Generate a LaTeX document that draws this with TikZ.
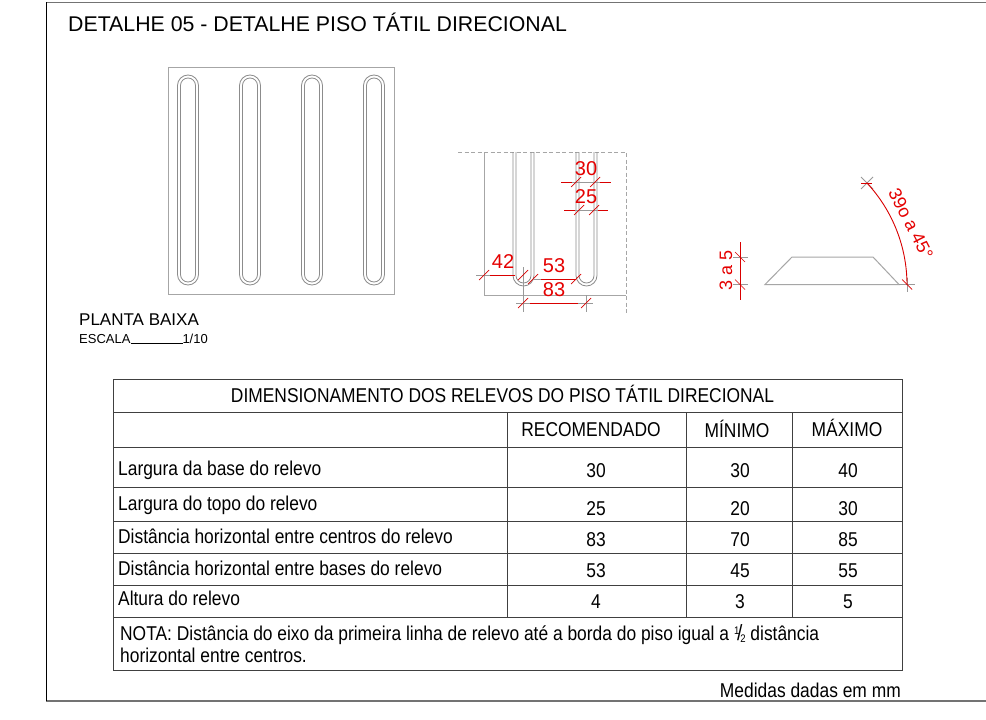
\documentclass[tikz,border=0pt]{standalone}
\usepackage{fontspec}
\setmainfont{Liberation Sans}
\tikzset{
  x=1pt,y=-1pt,
  gl/.style={draw=black!35,line width=1pt},
  gd/.style={draw=black!35,line width=.8pt,dash pattern=on 4pt off 2.5pt},
  ribl/.style={draw=black!45,line width=.8pt},
  dimr/.style={draw=red!85!black,line width=0.9pt},
  dimg/.style={draw=black!40,line width=0.9pt},
  tick/.style={draw=red!85!black,line width=0.7pt},
  redt/.style={text=red!90!black,inner sep=0pt,font=\fontsize{20}{20}\selectfont},
  lab/.style={inner sep=0pt,anchor=base west},
  tb/.style={draw=black!75,line width=.9pt},
  tl/.style={inner sep=0pt,anchor=base west,font=\fontsize{20}{20}\selectfont,xscale=0.87},
  tc/.style={inner sep=0pt,anchor=base,font=\fontsize{20}{20}\selectfont,xscale=0.87},
}
\begin{document}
\begin{tikzpicture}
\useasboundingbox (0,0) rectangle (986,720);
\fill[white] (0,0) rectangle (986,720);
% frame
\draw[draw=black!55,line width=1.1pt] (986,2.5) -- (46,2.5);
\draw[draw=black!55,line width=1.1pt] (46,701) -- (986,701);
\draw[draw=black,line width=1pt] (46,2) -- (46,701);
\node[lab,font=\fontsize{21.3}{21.3}\selectfont] (title) at (68,31) {DETALHE 05 - DETALHE PISO TÁTIL DIRECIONAL};
% tile
\draw[gl] (168,67) rectangle (394,294);
\foreach \c in {188,250,312,374}{
  \draw[ribl] (\c-10.5,85.5) arc[start angle=180,end angle=360,radius=10.5] -- (\c+10.5,274.5) arc[start angle=0,end angle=180,radius=10.5] -- cycle;
  \draw[ribl] (\c-7.5,85.5) arc[start angle=180,end angle=360,radius=7.5] -- (\c+7.5,274.5) arc[start angle=0,end angle=180,radius=7.5] -- cycle;
}
\node[lab,font=\fontsize{17}{17}\selectfont] (pb) at (79,325) {PLANTA BAIXA};
\node[lab,font=\fontsize{13}{13}\selectfont] (esc) at (79,343) {ESCALA\rule[-1pt]{52pt}{.6pt}1/10};
% detail
\draw[gd] (458,152) -- (626,152) -- (626,315);
\draw[gl] (484,152) -- (484,295) -- (626,295);
\foreach \c in {523.5,586.5}{
  \draw[ribl] (\c-10.5,152) -- (\c-10.5,275.5) arc[start angle=180,end angle=0,radius=10.5] -- (\c+10.5,152);
  \draw[ribl] (\c-7.5,152) -- (\c-7.5,275.5) arc[start angle=180,end angle=0,radius=7.5] -- (\c+7.5,152);
}
\draw[dimg] (523,267) -- (523,312) (586,295) -- (586,312);
% dims
\draw[dimg] (476,275) -- (490,275) (534,279) -- (541,279) (516,303) -- (530,303) (578,303) -- (593,303);
\draw[dimr] (490,275) -- (515,275) (541,279) -- (576,279) (530,303) -- (578,303);
\draw[dimg] (561,182) -- (611,182) (564,210) -- (608,210);
\draw[dimr] (561,182) -- (572,182) (600,182) -- (611,182) (564,210) -- (575,210) (598,210) -- (608,210);
\foreach \p/\q in {484/275,523/275,533/279,576/279,523/303,586/303,576/182,595/182,579/210,594/210}
  \draw[tick] (\p-5,\q+5) -- (\p+5,\q-5);
\node[redt] (d30) at (586,169) {30};
\node[redt] (d25) at (586,197) {25};
\node[redt] (d42) at (503,262) {42};
\node[redt] (d53) at (554,266) {53};
\node[redt] (d83) at (554,290) {83};
% section
\draw[gl] (765,284.5) -- (792,257) -- (873,257) -- (899,284.5) -- cycle;
\draw[dimg] (899,284.5) -- (915,284.5) (907,278) -- (907,292);
\draw[dimg] (733,257) -- (748,257) (733,284.5) -- (748,284.5);
\draw[dimr] (740,242) -- (740,300);
\draw[tick] (735,252) -- (745,262) (735,279.5) -- (745,289.5) (902,279.5) -- (912,289.5);
\draw[dimg] (861,177) -- (873,189) (861,189) -- (873,177);
\draw[tick] (861,183) -- (872,183);
\draw[dimr] (907,285) .. controls (907,247) and (892.6,210.5) .. (866.7,182.7);
\node[redt,rotate=90,font=\fontsize{18}{18}\selectfont] (h) at (726,270) {3 a 5};
\node[redt,rotate=-63,font=\fontsize{18}{18}\selectfont] (ang) at (911,224) {39o a 45°};
% table
\draw[tb] (113,379.5) -- (902,379.5) -- (902,670) -- (113,670) -- cycle;
\foreach \y in {412.5,447.5,487.5,521,553,585,617} \draw[tb] (113,\y) -- (902,\y);
\draw[tb] (507,412.5) -- (507,617) (686.5,412.5) -- (686.5,617) (792,412.5) -- (792,617);
\node[tc] (th) at (502.5,402) {DIMENSIONAMENTO DOS RELEVOS DO PISO TÁTIL DIRECIONAL};
\node[tc] (h1) at (591,436) {RECOMENDADO};
\node[tc] (h2) at (737,437) {MÍNIMO};
\node[tc] (h3) at (847,436) {MÁXIMO};
\node[tl] (r1) at (118,475) {Largura da base do relevo};
\node[tl] (r2) at (118,510) {Largura do topo do relevo};
\node[tl] (r3) at (118,543) {Distância horizontal entre centros do relevo};
\node[tl] (r4) at (118,575) {Distância horizontal entre bases do relevo};
\node[tl] (r5) at (118,605) {Altura do relevo};
\foreach \n/\x/\y/\t in {a1/596/477/30,a2/740/477/30,a3/848/477/40,b1/596/515/25,b2/740/515/20,b3/848/515/30,c1/596/546/83,c2/740/546/70,c3/848/546/85,d1/596/577/53,d2/740/577/45,d3/848/577/55,e1/596/608/4,e2/740/608/3,e3/848/608/5}
  \node[tc] (\n) at (\x,\y) {\t};
\node[tl] (n1) at (120,640) {NOTA: Distância do eixo da primeira linha de relevo até a borda do piso igual a \raisebox{6pt}{\fontsize{11}{11}\selectfont 1}\kern-2.5pt{\fontsize{22}{22}\selectfont /}\kern-2.5pt\raisebox{-2pt}{\fontsize{11}{11}\selectfont 2} distância};
\node[tl] (n2) at (120,662) {horizontal entre centros.};
\node[tc,anchor=base east] (med) at (901,697) {Medidas dadas em mm};
\end{tikzpicture}
\end{document}
